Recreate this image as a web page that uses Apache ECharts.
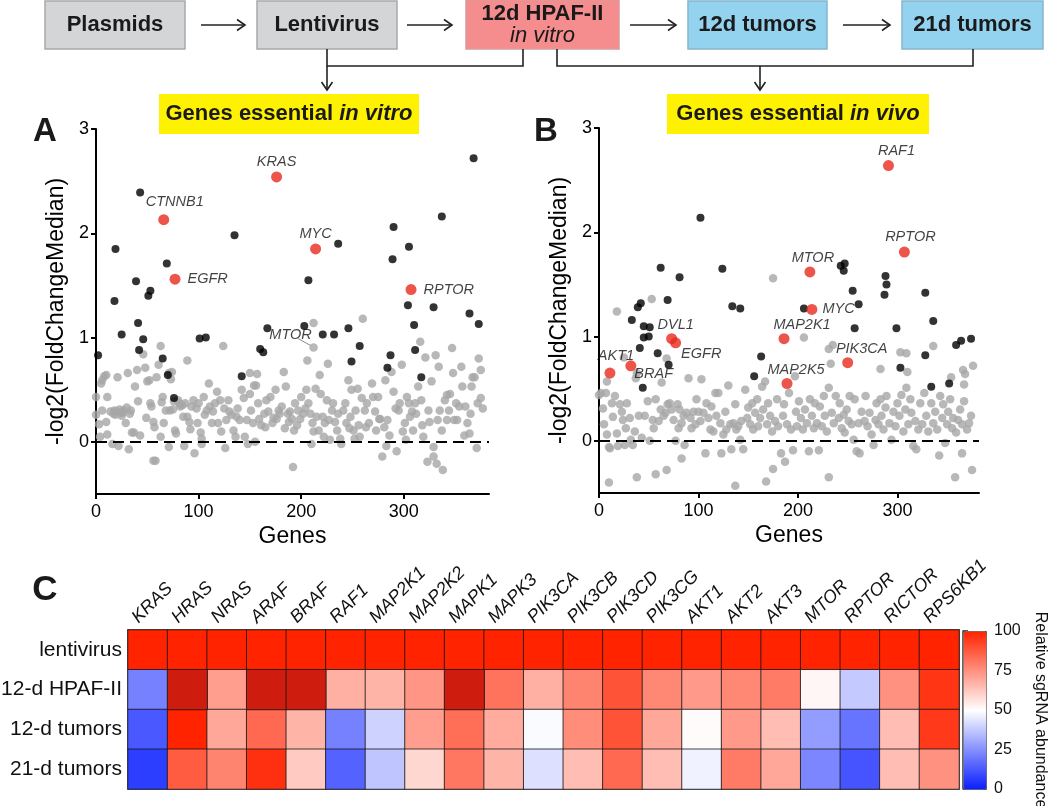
<!DOCTYPE html>
<html><head><meta charset="utf-8">
<script src="https://cdn.jsdelivr.net/npm/echarts@6/dist/echarts.min.js"></script>
<style>html,body{margin:0;padding:0;background:#fff}#c{width:1050px;height:806px}</style>
</head><body><div id="c"></div>
<script>
const FONT = "'Liberation Sans', Arial, Helvetica, sans-serif";

// ---------------- Panel A (in vitro) ----------------
const grayA = [[0,0.43],[0,0.26],[3,0.17],[4,0.05],[5,0.56],[6,0.59],[8,0.63],[10,0.64],[11,0.43],[10,0.19],[11,0.07],[6,0.30],[14,0.29],[16,-0.02],[17,0.27],
[19,0.26],[21,0.62],[22,-0.04],[24,0.28],[25,0.25],[27,0.30],[29,0.18],[31,0.66],[32,-0.07],[34,0.30],[35,0.09],[37,0.09],[18,0.30],[20,0.29],[23,0.31],[26,0.28],[30,0.33],[33,0.27],
[38,0.53],[40,0.69],[41,0.39],[43,0.06],[46,0.84],[48,0.71],[49,0.23],[50,0.58],[52,0.59],[53,0.37],[54,0.34],[56,-0.18],[58,-0.18],[56,0.19],[57,0.14],
[59,0.62],[61,0.74],[63,0.92],[63,0.05],[64,0.38],[65,0.43],[66,0.18],[68,0.30],[71,-0.05],[71,0.66],[72,0.30],[73,0.60],[74,0.67],[75,0.31],[76,0.39],[77,0.11],[78,0.08],
[80,0.40],[81,0.37],[82,0.34],[84,0.35],[85,0.24],[86,-0.04],[87,0.37],[89,0.78],[89,0.24],[91,0.19],[92,0.12],[93,0.34],[95,0.40],[96,-0.11],[98,0.32],[99,0.18],[100,0.37],[102,0.09],
[103,-0.02],[103,0.03],[105,0.43],[106,0.26],[108,0.30],[110,0.56],[111,0.34],[113,0.18],[114,0.29],[116,0.37],[118,0.48],[119,0.18],[121,0.40],[122,0.10],[124,0.92],[125,0.32],[126,-0.06],[127,0.21],
[129,0.40],[130,0.29],[132,0.26],[134,0.11],[136,0.05],[137,0.24],[138,0.32],[140,0.21],[142,0.50],[144,0.42],[145,0.05],[147,0.21],[148,-0.02],[150,0.66],[150,0.46],[151,0.30],[153,0.18],
[154,0.54],[155,0.00],[156,0.54],[157,0.65],[158,0.37],[159,0.22],[161,0.16],[164,0.27],[165,0.14],[166,0.40],[168,0.29],[170,0.43],[172,0.18],[173,0.23],[175,0.50],[176,0.22],[178,0.30],[179,0.27],
[181,0.34],[183,0.67],[184,0.13],[185,0.53],[187,0.27],[188,0.19],[189,0.29],[191,0.22],[192,-0.24],[193,0.11],[194,0.37],[196,0.16],[197,0.30],[199,0.22],[200,0.43],[202,0.27],[204,0.32],[205,0.50],[206,0.78],
[207,0.37],[209,0.27],[210,-0.02],[211,0.18],[212,1.14],[212,0.10],[214,0.51],[215,0.24],[217,0.11],[218,0.64],[219,0.46],[221,0.24],[222,0.05],[223,0.18],[225,0.40],[226,0.75],[227,0.21],[228,0.02],[230,0.30],[231,0.37],
[233,0.19],[235,0.11],[236,0.27],[238,0.03],[239,-0.02],[241,0.30],[243,0.37],[244,0.18],[246,0.59],[247,0.13],[248,0.24],[249,0.50],[251,0.11],[252,0.03],[253,0.30],[255,0.51],[256,0.16],[257,0.05],
[259,0.42],[260,1.18],[262,0.30],[263,0.14],[264,0.37],[266,0.18],[269,0.56],[270,0.43],[272,0.29],[273,0.11],[275,0.43],[276,0.22],[277,0.22],[279,-0.14],[281,0.14],[282,0.59],[283,-0.04],
[284,0.21],[286,0.06],[288,0.67],[290,0.48],[292,0.32],[293,-0.09],[295,0.30],[296,0.37],[298,0.74],[299,0.10],[301,0.18],[302,0.02],[303,0.43],[305,0.37],[306,0.24],[308,0.29],[309,0.11],
[311,0.37],[312,0.27],[314,0.53],[316,0.96],[317,0.40],[318,0.16],[319,0.05],[321,0.81],[323,-0.19],[324,0.30],[325,0.19],[327,0.58],[329,-0.05],[329,-0.14],[331,0.83],[332,-0.21],[333,0.21],[334,0.72],[335,0.30],
[337,0.11],[338,-0.27],[340,0.40],[342,0.21],[342,0.45],[344,0.30],[345,0.46],[347,0.90],[348,0.66],[349,0.21],[351,0.37],[352,0.21],[354,0.34],[356,0.72],[357,0.53],[359,0.06],[360,0.34],
[362,0.18],[364,0.08],[365,0.27],[366,0.53],[367,0.62],[369,0.62],[371,-0.06],[372,0.37],[373,0.80],[375,0.42],[375,0.69],[377,0.32]];

const blackA = [[2,0.83],[19,1.85],[18,1.35],[25,1.03],[43,2.39],[39,1.54],[41,1.14],[46,0.985],[42,0.88],[51,1.40],[53,1.45],[65,0.80],[69,1.71],[70,0.64],[76,0.42],
[101,0.99],[107,1.00],[135,1.98],[142,0.63],[160,0.89],[163,0.86],[167,1.09],[203,1.11],[207,1.55],[221,1.03],[232,1.03],[236,1.90],[246,1.09],[249,0.77],[257,0.92],
[287,0.83],[284,0.71],[289,1.75],[290,2.06],[304,1.31],[305,1.87],[310,1.12],[311,0.88],[317,0.62],[329,1.29],[337,2.16],[364,1.23],[368,2.72],[373,1.13]];

const redGenesA = ['KRAS','CTNNB1','MYC','EGFR','RPTOR'];
const redXA = [176, 66, 214, 77, 307];
const redYA = [2.54, 2.13, 1.85, 1.56, 1.46];
const mtorA = [212, 0.905];

// ---------------- Panel B (in vivo) ----------------
const grayB = [[0,0.44],[2,0.46],[4,0.31],[5,0.16],[7,0.46],[8,0.06],[10,-0.06],[13,0.36],[14,0.23],[16,0.43],[18,0.07],[19,-0.05],[21,0.35],[23,0.28],[24,0.20],[26,-0.04],[27,0.12],[28,0.36],[31,0.22],
[32,0.01],[34,-0.04],[36,0.09],[37,0.60],[40,0.24],[43,0.03],[46,0.24],[49,0.38],[51,0.00],[54,0.20],[55,0.12],[57,0.40],[60,0.19],[62,0.30],[63,0.56],[65,0.24],
[67,0.27],[69,0.35],[71,0.36],[73,0.30],[75,0.20],[77,0.00],[79,0.35],[80,0.12],[81,0.30],[83,0.17],[85,0.24],[86,-0.04],[88,0.27],[90,0.60],[92,0.22],[93,0.12],[95,0.28],[97,0.16],[98,0.40],
[100,0.28],[102,0.19],[103,0.59],[105,0.27],[107,-0.12],[108,0.36],[110,0.22],[112,0.11],[113,0.33],[115,0.09],[117,0.46],[118,0.24],[120,0.46],[122,0.17],[123,-0.12],[125,0.06],[127,0.28],[128,0.11],[130,0.53],[132,0.16],
[133,-0.08],[135,0.17],[137,0.35],[138,0.11],[140,0.14],[142,0.01],[143,0.19],[145,-0.08],[147,0.49],[149,0.22],[150,0.32],[152,0.16],[154,0.36],[155,0.11],[157,0.27],[159,0.40],[160,0.14],[162,0.22],[164,0.52],[165,0.30],
[167,0.57],[169,0.16],[170,0.36],[172,0.24],[174,0.09],[177,0.19],[179,0.40],[180,0.14],[183,-0.12],[185,0.24],[186,0.35],[189,0.16],[191,0.46],[193,0.11],[195,-0.09],[197,0.62],[198,0.28],
[199,0.14],[201,0.38],[203,0.22],[205,0.11],[207,0.30],[209,0.17],[211,-0.10],[212,0.40],[214,0.24],[216,0.12],[217,0.36],[219,0.17],[221,-0.09],[222,0.33],[224,0.14],[226,0.43],[227,0.24],[229,0.09],[231,0.51],
[234,0.27],[236,0.17],[238,0.43],[241,0.22],[242,0.36],[244,0.12],[246,0.25],[247,0.08],[249,0.30],[251,0.19],[252,0.43],[254,0.16],[256,0.01],[257,0.40],[259,-0.10],[261,0.17],[262,-0.12],[264,0.28],
[267,0.19],[268,0.43],[270,0.14],[272,0.27],[274,0.06],[276,-0.04],[278,0.20],[279,0.36],[281,0.16],[283,0.40],[284,0.24],[286,0.11],[288,0.32],[289,0.43],[292,0.17],[294,0.01],[296,0.28],[298,0.14],
[300,0.36],[302,0.24],[304,0.44],[306,0.09],[308,0.30],[309,0.51],[311,0.16],[313,0.40],[314,0.27],[316,-0.05],[318,0.19],[319,-0.08],[321,0.11],[323,0.36],[325,0.16],[327,0.46],[329,0.24],[331,0.09],
[334,0.36],[336,0.17],[338,0.28],[340,0.11],[342,-0.14],[343,0.43],[345,0.22],[346,0.35],[348,-0.02],[350,0.16],[351,0.28],[353,0.40],[355,0.12],[356,0.22],[359,0.08],[361,0.20],[363,0.30],[365,0.16],[367,0.38],[370,0.11],[372,0.17],[374,0.24],[376,0.72],
[175,1.56],[53,1.36],[18,1.24],[206,0.99],[235,0.92],[231,0.88],[68,0.79],[25,0.80],[38,0.65],[336,0.91],[303,0.85],[309,0.84],[283,0.69],[310,0.66],[233,0.74],[366,0.68],[368,0.64],[354,0.61],[367,0.54],[8,0.57],
[10,-0.40],[38,-0.35],[57,-0.32],[68,-0.28],[83,-0.17],[137,-0.43],[168,-0.39],[175,-0.27],[187,-0.20],[231,-0.35],[358,-0.35],[365,-0.12],[375,-0.28],[11,-0.07]];

const blackB = [[33,1.16],[39,1.28],[42,1.32],[45,0.99],[45,1.10],[50,1.00],[51,1.09],[41,0.89],[44,0.51],[59,0.84],[62,1.66],[69,1.35],[70,0.73],[81,1.57],[102,2.14],
[124,1.65],[134,1.29],[142,1.27],[156,0.62],[163,0.81],[206,1.27],[243,1.68],[247,1.70],[246,1.63],[255,1.44],[257,1.08],[261,1.31],[287,1.40],[288,1.58],[289,1.50],
[299,1.08],[303,0.70],[328,0.82],[328,1.42],[334,0.52],[336,1.15],[352,0.55],[359,0.92],[364,0.96],[374,0.98]];

const redGenesB = ['RAF1','RPTOR','MTOR','MYC','MAP2K1','DVL1','EGFR','AKT1','BRAF','PIK3CA','MAP2K5'];
const redXB = [291, 307, 212, 214, 186, 73, 77, 11, 32, 250, 189];
const redYB = [2.64, 1.81, 1.62, 1.26, 0.98, 0.98, 0.94, 0.65, 0.72, 0.75, 0.55];

const xTicks = [0, 100, 200, 300];
const yTicks = [0, 1, 2, 3];

// ---------------- Panel C (heatmap) ----------------
const heatGenes = ['KRAS','HRAS','NRAS','ARAF','BRAF','RAF1','MAP2K1','MAP2K2','MAPK1','MAPK3','PIK3CA','PIK3CB','PIK3CD','PIK3CG','AKT1','AKT2','AKT3','MTOR','RPTOR','RICTOR','RPS6KB1'];
const conditions = ['lentivirus','12-d HPAF-II','12-d tumors','21-d tumors'];
const lentivirus = [100,100,100,100,100,100,100,100,100,100,100,100,100,100,100,100,100,100,100,100,100];
const hpaf12 =     [22,110,72,110,110,68,67,74,110,82,68,78,89,77,73,77,80,52,38,75,96];
const tumors12 =   [13,100,70,84,67,22,40,72,83,69,49,76,89,70,51,73,65,28,19,65,95];
const tumors21 =   [7,87,78,97,62,15,37,59,81,67,43,65,84,65,47,80,70,23,12,65,75];

// ---------------- styles ----------------
const GRAY = '#a6a6a6', RED = '#e8291d';
const redLabelA = {
  KRAS:   {position:'top', distance:2},
  CTNNB1: {position:'top', distance:2, offset:[11,-3]},
  MYC:    {position:'top', distance:2},
  EGFR:   {position:'right', distance:7},
  RPTOR:  {position:'right', distance:7}
};
const redLabelB = {
  RAF1:   {position:'top', distance:2, offset:[8,0]},
  RPTOR:  {position:'top', distance:2, offset:[6,0]},
  MTOR:   {position:'top', distance:1, offset:[3,0]},
  MYC:    {position:'right', distance:5},
  MAP2K1: {position:'top', distance:1, offset:[18,0]},
  DVL1:   {position:'top', distance:1, offset:[4,0]},
  EGFR:   {position:'right', distance:0, offset:[0,11]},
  AKT1:   {position:'top', distance:1, offset:[6,-3]},
  BRAF:   {position:'right', distance:0, offset:[-2,8]},
  PIK3CA: {position:'top', distance:1, offset:[14,0]},
  MAP2K5: {position:'top', distance:1, offset:[9,0]}
};
const labelText = {show:true, formatter:'{b}', fontSize:14.5, fontStyle:'italic', color:'#111', fontFamily:FONT};

function redItems(genes, xs, ys, lab) {
  return genes.map((g, i) => ({name:g, value:[xs[i], ys[i]], label:Object.assign({}, labelText, lab[g])}));
}

function xAxisScatter(gi, max) {
  return {type:'value', gridIndex:gi, min:0, max:max, name:'Genes', nameLocation:'middle', nameGap:31,
    nameTextStyle:{fontSize:23, color:'#000', fontFamily:FONT},
    axisLine:{show:true, onZero:false, lineStyle:{color:'#000', width:2}},
    axisTick:{show:true, length:5, lineStyle:{color:'#000', width:2}, customValues:xTicks},
    axisLabel:{fontSize:18, color:'#000', margin:9, fontFamily:FONT, customValues:xTicks},
    splitLine:{show:false}};
}
function yAxisScatter(gi) {
  return {type:'value', gridIndex:gi, min:-0.5, max:3, name:'-log2(FoldChangeMedian)', nameLocation:'middle', nameGap:28,
    nameTextStyle:{fontSize:23, color:'#000', fontFamily:FONT},
    axisLine:{show:true, onZero:false, lineStyle:{color:'#000', width:2}},
    axisTick:{show:true, length:5, lineStyle:{color:'#000', width:2}, customValues:yTicks},
    axisLabel:{fontSize:18, color:'#000', margin:7, fontFamily:FONT, customValues:yTicks},
    splitLine:{show:false}};
}
const zeroLine = {silent:true, symbol:'none', label:{show:false},
  lineStyle:{color:'#000', width:2, type:[11,6]}, data:[{yAxis:0}]};
// leader line from the MTOR point toward its label (panel A)
const mtorLeader = {silent:true, symbol:'none', label:{show:false},
  lineStyle:{color:'#888', width:1, type:'solid'},
  data:[[{coord:[mtorA[0]-3, mtorA[1]+0.02]}, {coord:[mtorA[0]-15, mtorA[1]+0.085]}]]};

const heatNormal = [], heatOver = [];
[lentivirus, hpaf12, tumors12, tumors21].forEach((row, r) => {
  row.forEach((v, c) => { (v > 100 ? heatOver : heatNormal).push([c, r, v]); });
});

// ---------------- flow diagram ----------------
const boxFont = 'bold 22px ' + FONT;
function box(x, y, w, h, fill, stroke) {
  return {type:'rect', shape:{x, y, width:w, height:h}, style:{fill, stroke, lineWidth:1.5}, silent:true};
}
function txt(x, y, text, font) {
  return {type:'text', style:{x, y, text, font: font || boxFont, fill:'#1a1a1a', align:'center', verticalAlign:'middle'}, silent:true};
}
function line(points) {
  return {type:'polyline', shape:{points}, style:{stroke:'#222', lineWidth:1.6, fill:null}, silent:true};
}
function hArrow(x1, x2, y) {
  return [line([[x1,y],[x2,y]]), line([[x2-8,y-5.5],[x2,y],[x2-8,y+5.5]])];
}
function vArrow(x, y1, y2) {
  return [line([[x,y1],[x,y2]]), line([[x-5.5,y2-8],[x,y2],[x+5.5,y2-8]])];
}
const richYellow = {
  b:{fontSize:22, fontWeight:'bold', fontFamily:FONT, fill:'#1a1a1a'},
  i:{fontSize:22, fontWeight:'bold', fontStyle:'italic', fontFamily:FONT, fill:'#1a1a1a'}
};
const graphics = [
  box(45, 1, 140, 48, '#d4d5d7', '#a9a9a9'), txt(115, 25, 'Plasmids'),
  box(257, 1, 140, 48, '#d4d5d7', '#a9a9a9'), txt(327, 25, 'Lentivirus'),
  box(466, 0, 153, 49, '#f58d8f', '#d99a9a'),
  {type:'text', style:{x:542.5, y:25, text:'{b|12d HPAF-II}\n{i|in vitro}', rich:{b:{fontSize:22, fontWeight:'bold', fontFamily:FONT, fill:'#1a1a1a', lineHeight:22}, i:{fontSize:22, fontStyle:'italic', fontFamily:FONT, fill:'#1a1a1a', lineHeight:22}}, align:'center', verticalAlign:'middle'}, silent:true},
  box(688, 1, 139, 48, '#94d3ef', '#86b5cc'), txt(757.5, 25, '12d tumors'),
  box(902, 1, 141, 48, '#94d3ef', '#86b5cc'), txt(972.5, 25, '21d tumors'),
  ...hArrow(201, 245, 25), ...hArrow(407, 452, 25), ...hArrow(630, 676, 25), ...hArrow(843, 890, 25),
  line([[327,49],[327,66],[523,66],[523,49]]), ...vArrow(327, 66, 90),
  line([[557,49],[557,66],[973,66],[973,49]]), ...vArrow(760, 66, 90),
  {type:'rect', shape:{x:159, y:94, width:260, height:40}, style:{fill:'#fff200'}, silent:true},
  {type:'text', style:{x:289, y:114, text:'{b|Genes essential }{i|in vitro}', rich:richYellow, align:'center', verticalAlign:'middle'}, silent:true},
  {type:'rect', shape:{x:667, y:94, width:262, height:40}, style:{fill:'#fff200'}, silent:true},
  {type:'text', style:{x:798, y:114, text:'{b|Genes essential }{i|in vivo}', rich:richYellow, align:'center', verticalAlign:'middle'}, silent:true},
  txt(45, 132, 'A', 'bold 33px ' + FONT), txt(546, 132, 'B', 'bold 33px ' + FONT), txt(45, 590, 'C', 'bold 35px ' + FONT)
];

const chart = echarts.init(document.getElementById('c'), null, {renderer:'canvas'});
chart.setOption({
  backgroundColor:'#fff',
  animation:false,
  textStyle:{fontFamily:FONT},
  graphic:{elements:graphics},
  grid:[
    {left:96, top:129, width:393, height:365, outerBoundsMode:'none'},
    {left:599, top:128, width:380, height:365, outerBoundsMode:'none'},
    {left:128, top:630, width:831, height:159, outerBoundsMode:'none', show:true, borderColor:'#777', borderWidth:2, backgroundColor:'transparent'},
    {left:963, top:631, width:23, height:158, outerBoundsMode:'none'}
  ],
  xAxis:[
    xAxisScatter(0, 383), xAxisScatter(1, 382),
    {type:'category', gridIndex:2, data:heatGenes, position:'top',
      axisLine:{show:false}, axisTick:{show:false}, splitLine:{show:false},
      axisLabel:{interval:0, rotate:-45, fontSize:18, fontStyle:'italic', color:'#111', margin:-3,
        verticalAlign:'bottom', lineHeight:36, fontFamily:FONT}},
    {type:'value', gridIndex:3, show:false, min:0, max:1}
  ],
  yAxis:[
    yAxisScatter(0), yAxisScatter(1),
    {type:'category', gridIndex:2, data:conditions, inverse:true,
      axisLine:{show:false}, axisTick:{show:false}, splitLine:{show:false},
      axisLabel:{fontSize:21, color:'#111', margin:6, fontFamily:FONT}},
    {type:'value', gridIndex:3, min:0, max:100, interval:25, position:'right',
      name:'Relative sgRNA abundance', nameLocation:'middle', nameRotate:-90, nameGap:46,
      nameTextStyle:{fontSize:16, color:'#111', fontFamily:FONT},
      axisLine:{show:true, lineStyle:{color:'#333', width:1.5}},
      axisTick:{show:true, length:5, lineStyle:{color:'#222', width:1.5}},
      axisLabel:{fontSize:16, color:'#111', margin:8, fontFamily:FONT},
      splitLine:{show:false}}
  ],
  visualMap:[
    {type:'continuous', min:0, max:100, seriesIndex:8, calculable:false, orient:'vertical',
      left:963, top:631, itemWidth:23, itemHeight:158, padding:0, text:null, showLabel:false,
      borderColor:'#555', borderWidth:1,
      inRange:{color:['#0a1eff','#ffffff','#ff2300']}},
    {type:'continuous', min:100, max:120, seriesIndex:9, show:false,
      inRange:{color:['#d82010','#c41a0c']}}
  ],
  series:[
    {type:'scatter', xAxisIndex:0, yAxisIndex:0, data:grayA, symbolSize:8.5, itemStyle:{color:GRAY}, silent:true, z:2},
    {type:'scatter', xAxisIndex:0, yAxisIndex:0, data:blackA, symbolSize:8, itemStyle:{color:'#000'}, silent:true, z:3, markLine:zeroLine},
    {type:'scatter', xAxisIndex:0, yAxisIndex:0, data:redItems(redGenesA, redXA, redYA, redLabelA), symbolSize:11, itemStyle:{color:RED}, silent:true, z:4},
    {type:'scatter', xAxisIndex:0, yAxisIndex:0, data:[{name:'MTOR', value:mtorA}], symbolSize:8.5, itemStyle:{color:GRAY}, silent:true, z:3,
      label:Object.assign({}, labelText, {position:'inside'}), labelLayout:{dx:-23, dy:-13}, markLine:mtorLeader},
    {type:'scatter', xAxisIndex:1, yAxisIndex:1, data:grayB, symbolSize:8.5, itemStyle:{color:GRAY}, silent:true, z:2},
    {type:'scatter', xAxisIndex:1, yAxisIndex:1, data:blackB, symbolSize:8, itemStyle:{color:'#000'}, silent:true, z:3, markLine:zeroLine},
    {type:'scatter', xAxisIndex:1, yAxisIndex:1, data:redItems(redGenesB, redXB, redYB, redLabelB), symbolSize:11, itemStyle:{color:RED}, silent:true, z:4},
    {type:'scatter', xAxisIndex:3, yAxisIndex:3, data:[], silent:true},
    {type:'heatmap', xAxisIndex:2, yAxisIndex:2, data:heatNormal, silent:true,
      itemStyle:{borderColor:'rgba(20,20,20,0.8)', borderWidth:1}},
    {type:'heatmap', xAxisIndex:2, yAxisIndex:2, data:heatOver, silent:true,
      itemStyle:{borderColor:'rgba(20,20,20,0.8)', borderWidth:1}}
  ]
});
</script></body></html>
